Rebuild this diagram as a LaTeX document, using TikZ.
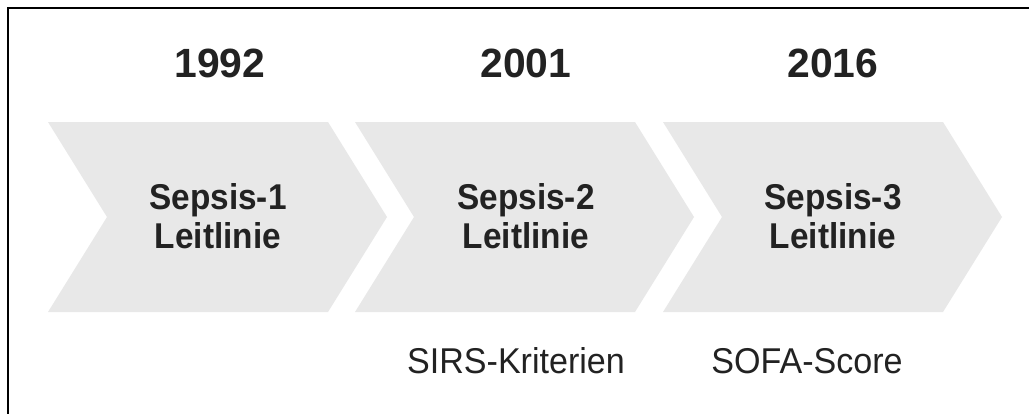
\documentclass[tikz,border=0pt]{standalone}
\usepackage{fontspec}
\setmainfont{Liberation Sans}
\newfontfamily\yearfont{Liberation Sans}
\newfontfamily\narrowfont[FakeStretch=0.93]{Liberation Sans}
\newfontfamily\notefont[FakeStretch=0.95]{Liberation Sans}
\definecolor{chev}{HTML}{E8E8E8}
\definecolor{ink}{HTML}{222222}
\tikzset{
  chevfill/.style={fill=chev, draw=none},
  yearlabel/.style={anchor=base, inner sep=0pt, text=ink, font=\yearfont\bfseries\fontsize{41}{44}\selectfont},
  stagelabel/.style={anchor=center, inner sep=0pt, align=center, text=ink, font=\narrowfont\bfseries\fontsize{36}{39}\selectfont},
  notelabel/.style={anchor=base, inner sep=0pt, text=ink, font=\notefont\fontsize{36}{39}\selectfont},
}
\begin{document}
\begin{tikzpicture}[x=1bp,y=-1bp]
\useasboundingbox (0,0) rectangle (1029,413);
\fill[white] (0,0) rectangle (1029,413);
\begin{scope}
\clip (0,0) rectangle (1029,413);
\draw[line width=2bp, black] (8,430) -- (8,8) -- (1040,8);
\end{scope}
% chevrons
\foreach \x/\n in {48/a,355/b,663/c}{
  \fill[chevfill] (\x,122) -- ++(280,0) -- ++(59,95) -- ++(-59,95) -- ++(-280,0) -- ++(59,-95) -- cycle;
}
\node[yearlabel] (y1) at (220,77) {1992};
\node[yearlabel] (y2) at (526,77) {2001};
\node[yearlabel] (y3) at (833,77) {2016};
\node[stagelabel] (s1) at (218,216) {Sepsis-1\\Leitlinie};
\node[stagelabel] (s2) at (526,216) {Sepsis-2\\Leitlinie};
\node[stagelabel] (s3) at (833,216) {Sepsis-3\\Leitlinie};
\node[notelabel] (n2) at (516,373) {SIRS-Kriterien};
\node[notelabel] (n3) at (807,373) {SOFA-Score};
\end{tikzpicture}
\end{document}
